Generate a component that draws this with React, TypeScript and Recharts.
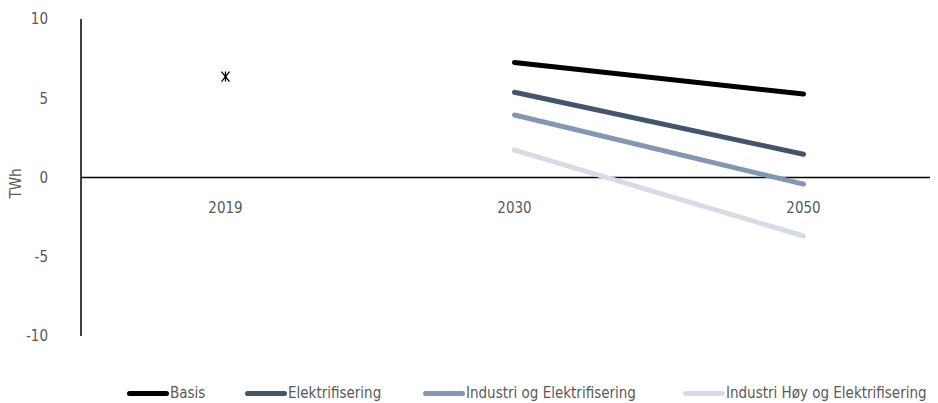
import { LineChart, Line, XAxis, YAxis, Legend, ReferenceLine, ReferenceDot, Label } from "recharts";

const years = ["2019", "2030", "2050"];
const historisk = [6.37, null, null];
const basis = [null, 7.25, 5.27];
const elektrifisering = [null, 5.38, 1.47];
const industriOg = [null, 3.94, -0.42];
const industriHoy = [null, 1.73, -3.69];
const yTicks = [-10, -5, 0, 5, 10];

const FONT = "'DejaVu Sans Condensed', 'DejaVu Sans', 'Liberation Sans Narrow', sans-serif";
const TEXT = "#595959";

const SERIES = [
  { key: "basis", name: "Basis", color: "#000000" },
  { key: "elektrifisering", name: "Elektrifisering", color: "#44546A" },
  { key: "industriOg", name: "Industri og Elektrifisering", color: "#8497B0" },
  { key: "industriHoy", name: "Industri Høy og Elektrifisering", color: "#D6DCE5" },
];

const data = years.map((year, i) => ({
  year,
  historisk: historisk[i],
  basis: basis[i],
  elektrifisering: elektrifisering[i],
  industriOg: industriOg[i],
  industriHoy: industriHoy[i],
}));

// star-ish marker used for the single 2019 value
function StarDot(props: { cx?: number; cy?: number; value?: number | null }) {
  const { cx, cy, value } = props;
  if (value == null || cx == null || cy == null) return null;
  const s = 4;
  return (
    <g stroke="#000" strokeWidth={1.3}>
      <line x1={cx - s} y1={cy - s - 1} x2={cx + s} y2={cy + s + 1} />
      <line x1={cx - s} y1={cy + s + 1} x2={cx + s} y2={cy - s - 1} />
      <line x1={cx} y1={cy - s - 1} x2={cx} y2={cy + s + 1} />
    </g>
  );
}

// legend item left edges (chart px) to mimic the spacing in the original
const LEGEND_LEFT = [119, 237, 415, 675];

function CustomLegend() {
  return (
    <div style={{ position: "relative", height: 20, width: 930, fontFamily: FONT, fontSize: 15, color: TEXT }}>
      {SERIES.map((s, i) => (
        <div
          key={s.key}
          style={{ position: "absolute", left: LEGEND_LEFT[i], top: 0, height: 20, display: "flex", alignItems: "center", whiteSpace: "nowrap" }}
        >
          <span style={{ display: "inline-block", width: 42, height: 5, borderRadius: 3, background: s.color, marginRight: 1 }} />
          <span>{s.name}</span>
        </div>
      ))}
    </div>
  );
}

export default function App() {
  return (
    <div style={{ width: 930, height: 395, overflow: "hidden", background: "#fff" }}>
      <LineChart width={940} height={395} data={data} margin={{ top: 11, right: 0, bottom: 47, left: 0 }}>
        <XAxis dataKey="year" type="category" scale="band" hide />
        <YAxis
          type="number"
          domain={[-10, 10]}
          ticks={yTicks}
          width={73}
          tickLine={false}
          tickSize={0}
          tickMargin={33}
          axisLine={{ stroke: "#000", strokeWidth: 1.5 }}
          tick={{ fill: TEXT, fontSize: 15, fontFamily: FONT }}
        >
          <Label
            value="TWh"
            angle={-90}
            position="insideLeft"
            offset={8}
            dy={6}
            style={{ fill: TEXT, fontSize: 15, fontFamily: FONT, textAnchor: "middle" }}
          />
        </YAxis>
        <ReferenceLine y={0} stroke="#000" strokeWidth={1.5} />
        {years.map((y) => (
          <ReferenceDot
            key={y}
            x={y}
            y={0}
            r={0}
            fill="none"
            stroke="none"
            label={{ value: y, position: "bottom", offset: 25, fill: TEXT, fontSize: 15, fontFamily: FONT }}
          />
        ))}
        <Legend verticalAlign="bottom" content={<CustomLegend />} wrapperStyle={{ left: 0, top: 375 }} />
        <Line
          dataKey="historisk"
          stroke="none"
          legendType="none"
          dot={<StarDot />}
          activeDot={false}
          isAnimationActive={false}
        />
        {SERIES.map((s) => (
          <Line
            key={s.key}
            dataKey={s.key}
            name={s.name}
            stroke={s.color}
            strokeWidth={5}
            strokeLinecap="round"
            dot={false}
            activeDot={false}
            isAnimationActive={false}
          />
        ))}
      </LineChart>
    </div>
  );
}
